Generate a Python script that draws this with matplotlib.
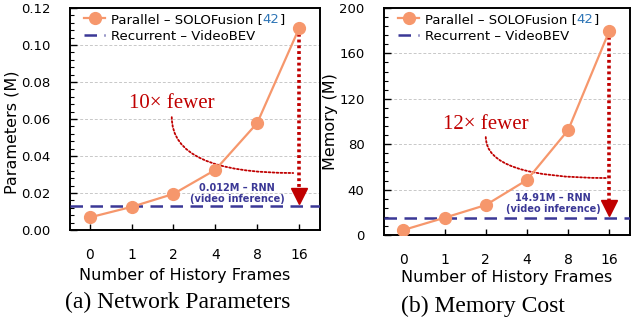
import matplotlib
matplotlib.use("Agg")
import matplotlib.pyplot as plt
import numpy as np

# data
frames = ["0", "1", "2", "4", "8", "16"]
params = [0.0068, 0.0125, 0.0195, 0.0325, 0.0578, 0.109]
params_rnn = 0.0128
memory = [4.4, 15.2, 26.4, 48.5, 92.5, 180.0]
memory_rnn = 14.8

orange = "#F6976C"
navy = "#3B3896"
red = "#C00000"
cite = "#2E75B6"

plt.rcParams["font.family"] = "DejaVu Sans"

fig = plt.figure(figsize=(6.32, 3.22), dpi=100)
ax1 = fig.add_axes([70 / 632, 92 / 322, 250 / 632, 222 / 322])
ax2 = fig.add_axes([384 / 632, 87 / 322, 246 / 632, 227 / 322])

x = np.arange(len(frames))


def panel(ax, vals, rnn, ylim, yticks, ylabel, rnn_text, gain_text,
          txt_xy, curve_from, curve_to, rnn_xy, yfmt, ylab_xy, xlab_xy):
    ax.plot(x, vals, "-o", color=orange, lw=1.6, ms=8.5, zorder=4,
            label="Parallel – SOLOFusion [")
    ax.axhline(rnn, color=navy, lw=1.8, ls=(0, (5, 3)), zorder=3,
               label="Recurrent – VideoBEV")
    ax.set_xlim(-0.47, 5.5)
    ax.set_ylim(*ylim)
    ax.set_yticks(yticks)
    ax.set_yticklabels([yfmt.format(v) for v in yticks])
    ax.set_xticks(x)
    ax.set_xticklabels(frames)
    ax.minorticks_on()
    ax.xaxis.set_minor_locator(matplotlib.ticker.NullLocator())
    ax.yaxis.set_minor_locator(matplotlib.ticker.AutoMinorLocator(5))
    ax.tick_params(axis="y", which="major", direction="in", length=5, width=1,
                   labelsize=9.5, pad=14)
    ax.tick_params(axis="y", which="minor", direction="in", length=3, width=0.8)
    ax.tick_params(axis="x", direction="in", length=4, width=1, labelsize=10, pad=13)
    for y in yticks[1:-1]:
        ax.axhline(y, color="#C8C8C8", lw=0.7, ls=(0, (3, 2)), zorder=1)
    for s in ax.spines.values():
        s.set_linewidth(1.4)
    ax.set_xlabel("Number of History Frames", fontsize=11.5, va="center")
    ax.xaxis.set_label_coords(*xlab_xy)
    ax.set_ylabel(ylabel, fontsize=11.5, va="center")
    ax.yaxis.set_label_coords(*ylab_xy)

    # dotted drop arrow from the 16-frame point down to the RNN line
    ax.plot([x[-1], x[-1]], [vals[-1], rnn + (ylim[1] - ylim[0]) * 0.06],
            color=red, lw=2.6, ls=(0, (0.8, 0.8)), zorder=2)
    ax.plot(x[-1], rnn + (ylim[1] - ylim[0]) * 0.045, marker="v", color=red,
            ms=11, zorder=2)

    ax.text(*txt_xy, gain_text, color=red, fontsize=15, family="Liberation Serif",
            ha="center", va="center")
    ax.annotate("", xy=curve_to, xytext=curve_from,
                arrowprops=dict(arrowstyle="-", color=red, lw=1.3, ls=(0, (1, 1.2)),
                                connectionstyle="angle3,angleA=90,angleB=0",
                                shrinkA=0, shrinkB=0))
    ax.text(*rnn_xy, rnn_text, color=navy, fontsize=7, fontweight="bold",
            ha="center", va="center", multialignment="center", linespacing=1.2)

    leg = ax.legend(loc="upper left", frameon=False, fontsize=9.5,
                    handlelength=1.6, handletextpad=0.4, labelspacing=0.3,
                    borderaxespad=0.3, bbox_to_anchor=(0.02, 1.02))
    t = leg.get_texts()[0]
    a = ax.annotate("42", xy=(1, 0), xycoords=t, va="bottom", ha="left",
                    color=cite, fontsize=9.5, zorder=7)
    ax.annotate("]", xy=(1, 0), xycoords=a, va="bottom", ha="left", fontsize=9.5,
                zorder=8)


panel(ax1, params, params_rnn, (0, 0.12), [0, 0.02, 0.04, 0.06, 0.08, 0.10, 0.12],
      "Parameters (M)", "0.012M – RNN\n(video inference)", "10× fewer",
      (1.96, 0.0685), (1.96, 0.061), (4.86, 0.0308), (3.52, 0.0197), "{:.2f}",
      (-0.232, 0.44), (0.458, -0.203))
panel(ax2, memory, memory_rnn, (0, 200), [0, 40, 80, 120, 160, 200],
      "Memory (M)", "14.91M – RNN\n(video inference)", "12× fewer",
      (2.0, 97), (2.0, 86.3), (4.93, 50.2), (3.64, 27.8), "{:.0f}",
      (-0.218, 0.5), (0.498, -0.189))

fig.text(178 / 632, 1 - 302 / 322, "(a) Network Parameters", ha="center", va="center",
         fontsize=17, family="Liberation Serif")
fig.text(483 / 632, 1 - 306 / 322, "(b) Memory Cost", ha="center", va="center",
         fontsize=17, family="Liberation Serif")

fig.savefig("out.png", dpi=100)
